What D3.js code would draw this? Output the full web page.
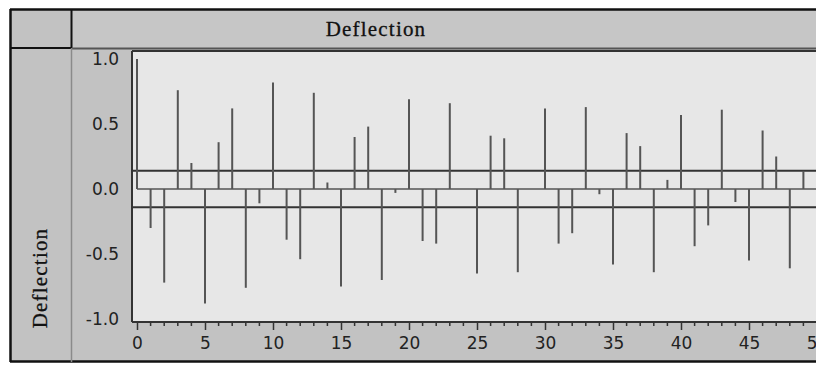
<!DOCTYPE html>
<html><head><meta charset="utf-8">
<script src="https://cdn.jsdelivr.net/npm/d3@7"></script>
<style>html,body{margin:0;padding:0;background:#fff;}svg{display:block;}</style>
</head><body>
<script>
const lags = d3.range(0, 50);
const values = [1.00,-0.30,-0.72,0.76,0.20,-0.88,0.36,0.62,-0.76,-0.11,
  0.82,-0.39,-0.54,0.74,0.05,-0.75,0.40,0.48,-0.70,-0.03,
  0.69,-0.40,-0.42,0.66,0.00,-0.65,0.41,0.39,-0.64,0.00,
  0.62,-0.42,-0.34,0.63,-0.04,-0.58,0.43,0.33,-0.64,0.07,
  0.57,-0.44,-0.28,0.61,-0.10,-0.55,0.45,0.25,-0.61,0.14];
const confUpper = 0.14, confLower = -0.14;
const yTicks = [1.0, 0.5, 0.0, -0.5, -1.0];
const xTicks = [0,5,10,15,20,25,30,35,40,45,50];
const title = "Deflection";
const yTitle = "Deflection";

const W = 816, H = 365;
const svg = d3.select("body").append("svg").attr("width", W).attr("height", H);

svg.append("rect").attr("x",0).attr("y",0).attr("width",W).attr("height",H).attr("fill","#ffffff");
svg.append("rect").attr("x",10).attr("y",9).attr("width",W).attr("height",353).attr("fill","#c2c2c2");
svg.append("rect").attr("x",72).attr("y",9).attr("width",W).attr("height",39).attr("fill","#c6c6c6");

const plotL = 132, plotT = 51, plotB = 322, plotR = 840;
svg.append("rect").attr("x",plotL).attr("y",plotT).attr("width",plotR-plotL).attr("height",plotB-plotT)
  .attr("fill","#e7e7e7");

const x = d3.scaleLinear().domain([0,50]).range([137,817]);
const y = d3.scaleLinear().domain([-1,1]).range([319,59]);

const frame = svg.append("g").attr("stroke","#111").attr("fill","none");
frame.append("line").attr("x1",10).attr("x2",W).attr("y1",9.5).attr("y2",9.5).attr("stroke-width",2.5);
frame.append("line").attr("x1",10.5).attr("x2",10.5).attr("y1",9).attr("y2",362).attr("stroke-width",2.5);
frame.append("line").attr("x1",10).attr("x2",W).attr("y1",361.5).attr("y2",361.5).attr("stroke-width",2.5);
frame.append("line").attr("x1",71.5).attr("x2",71.5).attr("y1",9).attr("y2",48).attr("stroke-width",2);
frame.append("line").attr("x1",10).attr("x2",72).attr("y1",48).attr("y2",48).attr("stroke-width",2);
svg.append("line").attr("x1",72).attr("x2",W).attr("y1",48.5).attr("y2",48.5).attr("stroke","#555").attr("stroke-width",2);
svg.append("line").attr("x1",71.5).attr("x2",71.5).attr("y1",48).attr("y2",362).attr("stroke","#8a8a8a").attr("stroke-width",1.5);

svg.append("line").attr("x1",plotL).attr("x2",plotR).attr("y1",plotT).attr("y2",plotT).attr("stroke","#333").attr("stroke-width",2);
svg.append("line").attr("x1",plotL).attr("x2",plotL).attr("y1",plotT).attr("y2",plotB).attr("stroke","#333").attr("stroke-width",2);

svg.append("text").attr("x",376).attr("y",36).attr("text-anchor","middle")
  .attr("font-family","Liberation Serif, serif").attr("font-size",21).attr("letter-spacing",1.2)
  .attr("fill","#111").attr("stroke","#111").attr("stroke-width",0.3).text(title);
svg.append("text").attr("transform","translate(47,278) rotate(-90)").attr("text-anchor","middle")
  .attr("font-family","Liberation Serif, serif").attr("font-size",21).attr("letter-spacing",1.2)
  .attr("fill","#111").attr("stroke","#111").attr("stroke-width",0.3).text(yTitle);

svg.append("g").selectAll("text").data(yTicks).join("text")
  .attr("x",119).attr("y",d=>y(d)).attr("dy","0.35em").attr("text-anchor","end")
  .attr("font-family","DejaVu Sans, sans-serif").attr("font-size",17).attr("fill","#222")
  .text(d=>d3.format(".1f")(d).replace("−","-"));

const xAxis = d3.axisBottom(x).tickValues(xTicks).tickSize(8).tickFormat(d3.format("d"));
const gx = svg.append("g").attr("transform",`translate(0,${plotB})`).call(xAxis);
gx.select(".domain").attr("stroke","#333").attr("stroke-width",2).attr("d",`M${plotL},0H${plotR}`);
gx.selectAll(".tick line").attr("stroke","#333").attr("stroke-width",1.5);
gx.selectAll(".tick text").attr("font-family","DejaVu Sans, sans-serif").attr("font-size",17).attr("fill","#222").attr("dy","0.95em");
const minor = svg.append("g").attr("transform",`translate(0,${plotB})`);
minor.selectAll("line").data(d3.range(0,51).filter(v=>v%5!==0)).join("line")
  .attr("x1",d=>x(d)).attr("x2",d=>x(d)).attr("y1",0).attr("y2",4)
  .attr("stroke","#333").attr("stroke-width",1.5);

const g = svg.append("g");
g.append("line").attr("x1",plotL).attr("x2",plotR).attr("y1",y(confUpper)).attr("y2",y(confUpper)).attr("stroke","#333").attr("stroke-width",2);
g.append("line").attr("x1",plotL).attr("x2",plotR).attr("y1",y(confLower)).attr("y2",y(confLower)).attr("stroke","#333").attr("stroke-width",2);
g.append("line").attr("x1",x(0)).attr("x2",plotR).attr("y1",y(0)).attr("y2",y(0)).attr("stroke","#555").attr("stroke-width",1.5);

g.selectAll("line.spike").data(lags).join("line").attr("class","spike")
  .attr("x1",d=>x(d)).attr("x2",d=>x(d))
  .attr("y1",y(0)).attr("y2",d=>y(values[d]))
  .attr("stroke","#555").attr("stroke-width",2);
</script>
</body></html>
